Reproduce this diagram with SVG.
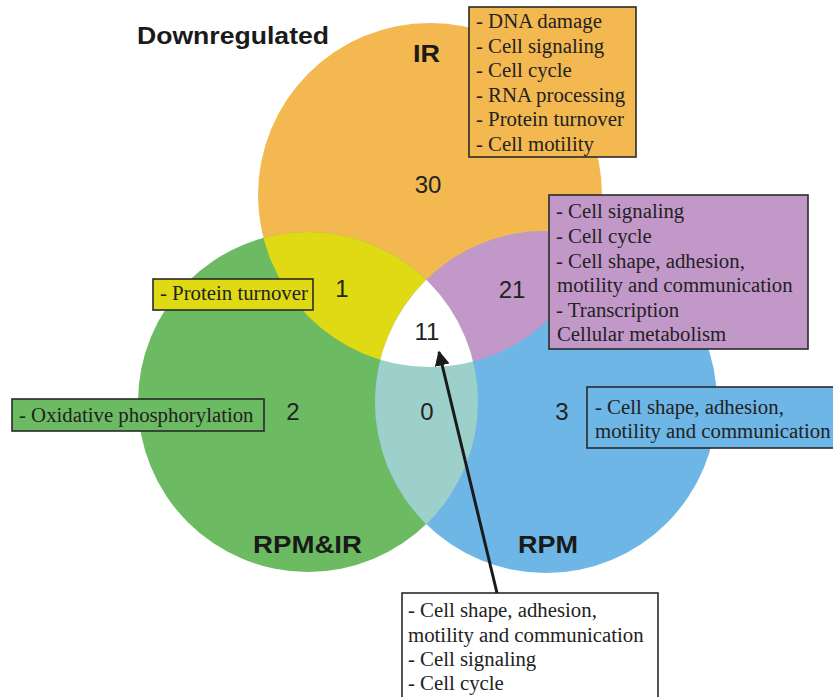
<svg xmlns="http://www.w3.org/2000/svg" width="833" height="697" viewBox="0 0 833 697">
<style>
.lbl{font-family:"Liberation Sans",Arial,sans-serif;font-weight:bold;fill:#1a1a1a;font-size:24px}
.num{font-family:"Liberation Sans",Arial,sans-serif;fill:#222;font-size:24px;text-anchor:middle}
.box{stroke:#2a2a2a;stroke-width:1.6}
.bt{font-family:"Liberation Serif","Times New Roman",serif;font-size:20.8px;fill:#222}
</style>
<defs>
<clipPath id="cIR"><circle cx="430" cy="195" r="172"/></clipPath>
<clipPath id="cB"><circle cx="546" cy="402" r="171"/></clipPath>
<marker id="ah" viewBox="0 0 10 10" refX="9" refY="5" markerWidth="5" markerHeight="5" orient="auto" markerUnits="strokeWidth"><path d="M0,0 L10,5 L0,10 z" fill="#1a1a1a"/></marker>
</defs>
<rect width="833" height="697" fill="#fff"/>
<g id="circles">
<circle id="ir" cx="430" cy="195" r="172" fill="#F3B84F"/>
<circle id="rpmir" cx="308" cy="402" r="170" fill="#6CBB62"/>
<circle id="rpm" cx="546" cy="402" r="171" fill="#6DB6E6"/>
<circle cx="308" cy="402" r="170" fill="#E0DA14" clip-path="url(#cIR)"/>
<circle cx="546" cy="402" r="171" fill="#C298C9" clip-path="url(#cIR)"/>
<circle cx="308" cy="402" r="170" fill="#9DD0CA" clip-path="url(#cB)"/>
<g clip-path="url(#cIR)"><circle cx="308" cy="402" r="170" fill="#fff" clip-path="url(#cB)"/></g>
</g>
<g id="labels">
<text class="lbl" x="137" y="44" font-size="25" textLength="192" lengthAdjust="spacingAndGlyphs">Downregulated</text>
<text class="lbl" x="413" y="62" textLength="27" lengthAdjust="spacingAndGlyphs">IR</text>
<text class="lbl" x="253" y="553" textLength="109" lengthAdjust="spacingAndGlyphs">RPM&amp;IR</text>
<text class="lbl" x="518" y="553" textLength="60" lengthAdjust="spacingAndGlyphs">RPM</text>
<text class="num" x="428" y="193">30</text>
<text class="num" x="342" y="297">1</text>
<text class="num" x="512" y="298">21</text>
<text class="num" x="427" y="340">11</text>
<text class="num" x="293" y="420">2</text>
<text class="num" x="427" y="420">0</text>
<text class="num" x="562" y="420">3</text>
</g>
<g id="box-ir">
<rect class="box" x="469" y="7" width="167" height="150" fill="#F3B84F"/>
<text class="bt" x="476" y="28">- DNA damage</text>
<text class="bt" x="476" y="52.5">- Cell signaling</text>
<text class="bt" x="476" y="77">- Cell cycle</text>
<text class="bt" x="476" y="101.5">- RNA processing</text>
<text class="bt" x="476" y="126">- Protein turnover</text>
<text class="bt" x="476" y="150.5">- Cell motility</text>
</g>
<g id="box-purple">
<rect class="box" x="549" y="195" width="259" height="154" fill="#C298C9"/>
<text class="bt" x="556" y="218">- Cell signaling</text>
<text class="bt" x="556" y="243">- Cell cycle</text>
<text class="bt" x="556" y="267.5">- Cell shape, adhesion,</text>
<text class="bt" x="557" y="292">motility and communication</text>
<text class="bt" x="556" y="316.5">- Transcription</text>
<text class="bt" x="557" y="341">Cellular metabolism</text>
</g>
<g id="box-blue">
<rect class="box" x="587" y="387" width="260" height="61" fill="#6DB6E6"/>
<text class="bt" x="595" y="414">- Cell shape, adhesion,</text>
<text class="bt" x="595" y="438">motility and communication</text>
</g>
<g id="box-yellow">
<rect class="box" x="153" y="279" width="160" height="31" fill="#E0DA14"/>
<text class="bt" x="160" y="300">- Protein turnover</text>
</g>
<g id="box-green">
<rect class="box" x="12" y="399" width="252" height="32" fill="#6CBB62"/>
<text class="bt" x="19" y="422">- Oxidative phosphorylation</text>
</g>
<g id="box-white">
<rect class="box" x="402" y="593" width="256" height="110" fill="#fff"/>
<text class="bt" x="408" y="617">- Cell shape, adhesion,</text>
<text class="bt" x="408" y="642">motility and communication</text>
<text class="bt" x="408" y="666">- Cell signaling</text>
<text class="bt" x="408" y="690">- Cell cycle</text>
</g>
<g id="connectors">
<line x1="497" y1="593" x2="439" y2="352" stroke="#1a1a1a" stroke-width="3" marker-end="url(#ah)"/>
</g>
</svg>
